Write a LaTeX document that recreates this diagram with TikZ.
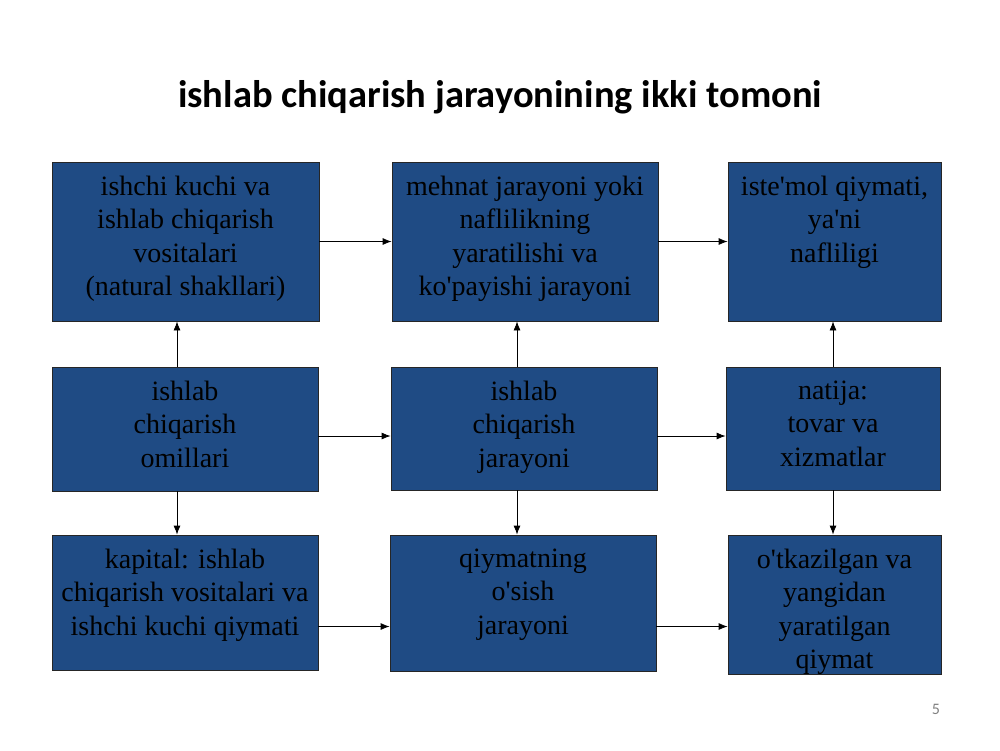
\documentclass[tikz,border=0pt]{standalone}
\usepackage{fontspec}
\setmainfont{Liberation Serif}
\newfontfamily\titlefont{Carlito}
\usetikzlibrary{arrows.meta}
\definecolor{panelblue}{RGB}{31,75,132}
\definecolor{pagegray}{RGB}{128,128,128}
\tikzset{
  panel/.style={draw=black!85, line width=0.8pt, fill=panelblue, inner sep=0pt},
  paneltext/.style={anchor=north, align=center, inner sep=0pt, text=black,
    font=\fontsize{28}{33.5}\selectfont},
  arr/.style={-{Latex[length=9pt,width=7pt]}, line width=0.8pt, black}
}
\newcommand{\ap}{\textquotesingle}
\begin{document}
\begin{tikzpicture}[x=1pt,y=-1pt]
    \useasboundingbox (0,0) rectangle (1000,750);

    % Title
    \node[font=\titlefont\bfseries\fontsize{38.5}{44}\selectfont] (title) at (500,97) {ishlab chiqarish jarayonining ikki tomoni};

    % Top row
    \node[panel, minimum width=267pt, minimum height=159pt] (a) at (185.5,241.5) {};
    \node[panel, minimum width=266pt, minimum height=159pt] (b) at (525,241.5) {};
    \node[panel, minimum width=213pt, minimum height=159pt] (c) at (834.5,241.5) {};
    \node[paneltext] (ta) at ([yshift=-14pt]a.north) {ishchi kuchi va\\ishlab chiqarish\\vositalari\\(natural shakllari)};
    \node[paneltext] (tb) at ([yshift=-14pt]b.north) {mehnat jarayoni yoki\\naflilikning\\yaratilishi va\\ko\ap payishi jarayoni};
    \node[paneltext] (tc) at ([yshift=-14pt]c.north) {iste\ap mol qiymati,\\ya\ap ni\\nafliligi};

    % Middle row
    \node[panel, minimum width=266pt, minimum height=124pt] (d) at (185,429) {};
    \node[panel, minimum width=266pt, minimum height=123pt] (e) at (524,428.5) {};
    \node[panel, minimum width=214pt, minimum height=123pt] (f) at (833,428.5) {};
    \node[paneltext] (td) at ([yshift=-14pt]d.north) {ishlab\\chiqarish\\omillari};
    \node[paneltext] (te) at ([yshift=-14pt]e.north) {ishlab\\chiqarish\\jarayoni};
    \node[paneltext] (tf) at ([yshift=-14pt]f.north) {natija:\\tovar va\\xizmatlar};

    % Bottom row
    \node[panel, minimum width=266pt, minimum height=135pt] (g) at (185,602.5) {};
    \node[panel, minimum width=266pt, minimum height=136pt] (h) at (523,603) {};
    \node[panel, minimum width=213pt, minimum height=139pt] (i) at (834.5,604.5) {};
    \node[paneltext] (tg) at ([yshift=-14pt]g.north) {kapital: ishlab\\chiqarish vositalari va\\ishchi kuchi qiymati};
    \node[paneltext] (th) at ([yshift=-14pt]h.north) {qiymatning\\o\ap sish\\jarayoni};
    \node[paneltext] (ti) at ([yshift=-14pt]i.north) {o\ap tkazilgan va\\yangidan\\yaratilgan\\qiymat};

    % Horizontal arrows
    \draw[arr] (a.east) -- (a.east -| b.west);
    \draw[arr] (b.east) -- (b.east -| c.west);
    \draw[arr] ([yshift=-7pt]d.east) -- ([yshift=-7pt]d.east -| e.west);
    \draw[arr] ([yshift=-7pt]d.east -| e.east) -- ([yshift=-7pt]d.east -| f.west);
    \draw[arr] ([yshift=-24pt]g.east) -- ([yshift=-24pt]g.east -| h.west);
    \draw[arr] ([yshift=-24pt]g.east -| h.east) -- ([yshift=-24pt]g.east -| i.west);

    % Vertical arrows
    \draw[arr] ([xshift=-8pt]d.north) -- ([xshift=-8pt]d.north |- a.south);
    \draw[arr] ([xshift=-7pt]e.north) -- ([xshift=-7pt]e.north |- b.south);
    \draw[arr] (f.north) -- (f.north |- c.south);
    \draw[arr] ([xshift=-8pt]d.south) -- ([xshift=-8pt]d.south |- g.north);
    \draw[arr] ([xshift=-7pt]e.south) -- ([xshift=-7pt]e.south |- h.north);
    \draw[arr] (f.south) -- (f.south |- i.north);

    % Page number
    \node[font=\titlefont\fontsize{16}{18}\selectfont, text=pagegray] (page) at (936,709) {5};
\end{tikzpicture}
\end{document}
